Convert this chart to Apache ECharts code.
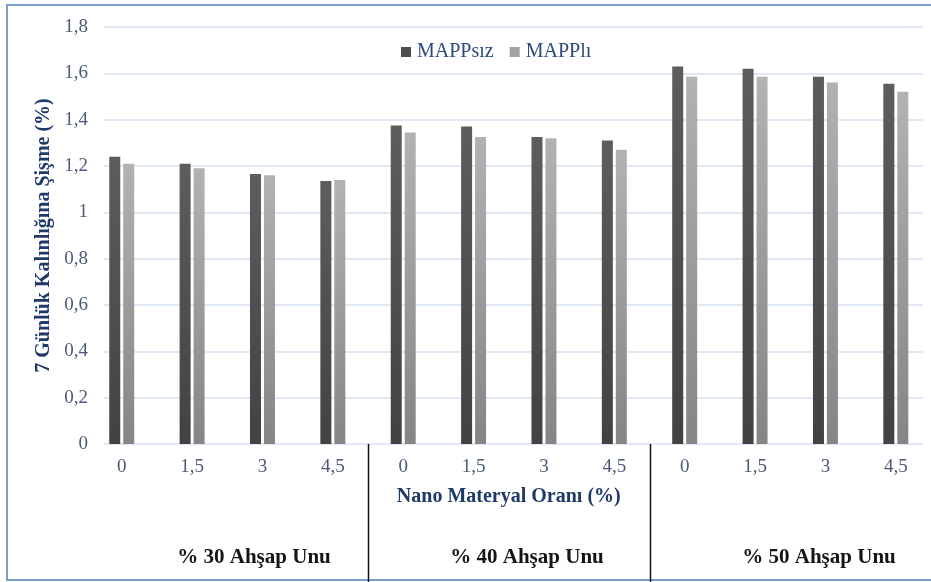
<!DOCTYPE html>
<html>
<head>
<meta charset="utf-8">
<script src="https://cdn.jsdelivr.net/npm/echarts@6/dist/echarts.min.js"></script>
<style>
  html, body { margin: 0; padding: 0; background: #ffffff; }
  #chart { width: 931px; height: 582px; }
</style>
</head>
<body>
<div id="chart"></div>
<script>
// Nano material ratio (%) for each wood-flour level
const categories = ['0', '1,5', '3', '4,5', '0', '1,5', '3', '4,5', '0', '1,5', '3', '4,5'];
// 7-day thickness swelling (%)
const mappsiz = [1.24, 1.21, 1.165, 1.135, 1.375, 1.37, 1.325, 1.31, 1.63, 1.62, 1.585, 1.555];
const mappli = [1.21, 1.19, 1.16, 1.14, 1.345, 1.325, 1.32, 1.27, 1.585, 1.585, 1.56, 1.52];
const seriesNames = ['MAPPsız', 'MAPPlı'];
const groupLabels = ['% 30 Ahşap Unu', '% 40 Ahşap Unu', '% 50 Ahşap Unu'];
const yMin = 0, yMax = 1.8, yStep = 0.2;

const SERIF = '"Liberation Serif", "Times New Roman", serif';

function vGrad(top, bottom) {
  return new echarts.graphic.LinearGradient(0, 0, 0, 1, [
    { offset: 0, color: top },
    { offset: 1, color: bottom }
  ]);
}

const chart = echarts.init(document.getElementById('chart'), null, { renderer: 'canvas' });

const fmt = v => String(+v.toFixed(1)).replace('.', ',');

const option = {
  backgroundColor: '#ffffff',
  animation: false,
  legend: {
    left: 396,
    top: 37,
    itemWidth: 10,
    itemHeight: 10,
    itemGap: 16,
    icon: 'rect',
    textStyle: { fontFamily: SERIF, fontSize: 20, color: '#2e4a7d', padding: [0, 0, 0, 1] },
    data: [
      { name: seriesNames[0], itemStyle: { color: '#4e4e4e' } },
      { name: seriesNames[1], itemStyle: { color: '#a2a2a2' } }
    ]
  },
  grid: [
    // frame for the value axis and its grid lines
    { left: 104, right: 8, top: 27, height: 417 },
    // frame for the category bands
    { left: 86.55, width: 850.8, top: 27, height: 417 }
  ],
  xAxis: [
    {
      gridIndex: 0, type: 'value', min: 0, max: 1, show: false
    },
    {
      gridIndex: 1,
      type: 'category',
      data: categories,
      boundaryGap: true,
      axisLine: { show: false },
      axisTick: { show: false },
      axisLabel: {
        interval: 0, margin: 14,
        fontFamily: SERIF, fontSize: 19, color: '#4b5a74'
      },
      name: 'Nano Materyal Oranı (%)',
      nameLocation: 'middle',
      nameGap: 43,
      nameTextStyle: { fontFamily: SERIF, fontSize: 20, fontWeight: 'bold', color: '#1f3a68' }
    }
  ],
  yAxis: [
    {
      gridIndex: 0,
      type: 'value',
      min: yMin, max: yMax, interval: yStep,
      axisLine: { show: false },
      axisTick: { show: false },
      splitLine: { show: true, lineStyle: { color: '#d5e1f1', width: 1.5 } },
      axisLabel: {
        margin: 16, formatter: fmt,
        fontFamily: SERIF, fontSize: 19, color: '#4b5a74'
      },
      name: '7 Günlük Kalınlığına Şişme (%)',
      nameLocation: 'middle',
      nameGap: 50,
      nameTextStyle: { fontFamily: SERIF, fontSize: 20, fontWeight: 'bold', color: '#1f3a68' }
    },
    {
      gridIndex: 1, type: 'value', min: yMin, max: yMax, show: false
    }
  ],
  series: [
    {
      name: seriesNames[0],
      type: 'bar',
      xAxisIndex: 1, yAxisIndex: 1,
      data: mappsiz,
      barWidth: 11,
      barGap: '27%',
      itemStyle: {
        color: vGrad('#5d5d5d', '#424242'),
        shadowBlur: 2, shadowColor: 'rgba(0,0,0,0.25)', shadowOffsetX: 1
      }
    },
    {
      name: seriesNames[1],
      type: 'bar',
      xAxisIndex: 1, yAxisIndex: 1,
      data: mappli,
      barWidth: 11,
      barGap: '27%',
      itemStyle: {
        color: vGrad('#b2b2b2', '#858585'),
        shadowBlur: 2, shadowColor: 'rgba(0,0,0,0.25)', shadowOffsetX: 1
      }
    }
  ]
};

chart.setOption(option);

// Group separators sit between the 4,5 and 0 bands; group titles below them.
const xAt = i => chart.convertToPixel({ xAxisIndex: 1 }, i);
const baseY = chart.convertToPixel({ yAxisIndex: 1 }, 0);
const perGroup = categories.length / groupLabels.length;
const graphics = [
  {
    type: 'rect', silent: true,
    shape: { x: 7, y: 5, width: 940, height: 575 },
    style: { fill: null, stroke: '#7d9ecd', lineWidth: 2 }
  }
];
for (let g = 1; g < groupLabels.length; g++) {
  const x = Math.round((xAt(g * perGroup - 1) + xAt(g * perGroup)) / 2) + 0.5;
  graphics.push({
    type: 'line', silent: true,
    shape: { x1: x, y1: baseY, x2: x, y2: 582 },
    style: { stroke: '#111111', lineWidth: 1.5 }
  });
}
const groupTextX = [254, 527, 819];
groupLabels.forEach((t, g) => {
  graphics.push({
    type: 'text', silent: true,
    x: groupTextX[g], y: 558,
    style: {
      text: t, align: 'center', verticalAlign: 'middle',
      fontFamily: SERIF, fontSize: 21, fontWeight: 'bold', fill: '#151515'
    }
  });
});
chart.setOption({ graphic: graphics });
</script>
</body>
</html>
